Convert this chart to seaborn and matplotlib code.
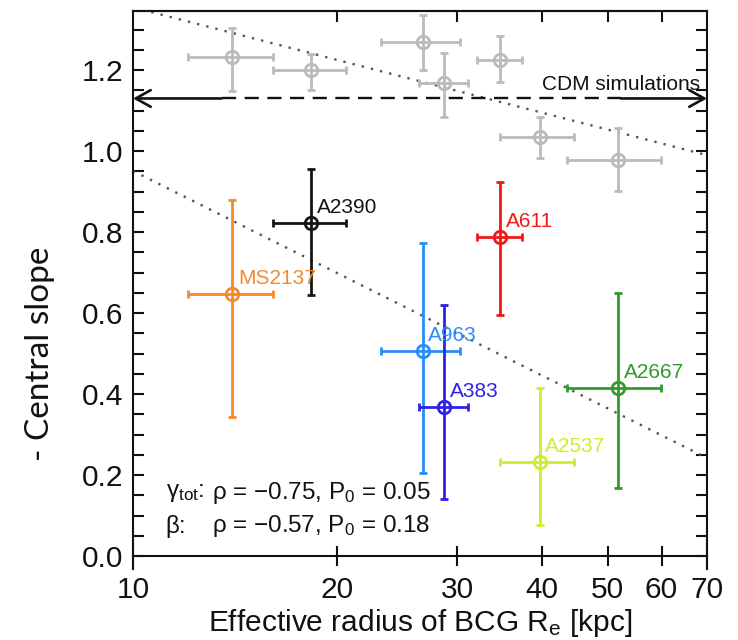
import matplotlib
matplotlib.use("Agg")
import matplotlib.pyplot as plt
from matplotlib.ticker import FixedLocator, FixedFormatter, MultipleLocator, NullLocator, FormatStrFormatter
import seaborn as sns
import pandas as pd

# ---- data -----------------------------------------------------------------
clusters = ["MS2137", "A2390", "A963", "A383", "A611", "A2537", "A2667"]
re_kpc = [14.0, 18.3, 26.7, 28.7, 34.7, 39.7, 51.8]
re_lo = [12.07, 16.1, 23.2, 26.4, 32.1, 34.7, 43.6]
re_hi = [16.06, 20.6, 30.3, 31.1, 37.4, 44.6, 59.8]

# dark-matter inner slope (beta)
beta = [0.647, 0.823, 0.507, 0.369, 0.788, 0.233, 0.416]
beta_lo = [0.344, 0.644, 0.204, 0.140, 0.595, 0.077, 0.167]
beta_hi = [0.879, 0.956, 0.774, 0.620, 0.924, 0.414, 0.649]

# total density slope (gamma_tot)
gamma_tot = [1.233, 1.200, 1.270, 1.169, 1.225, 1.035, 0.978]
gamma_lo = [1.149, 1.152, 1.200, 1.083, 1.171, 0.982, 0.902]
gamma_hi = [1.303, 1.241, 1.336, 1.243, 1.284, 1.083, 1.058]

cluster_colors = ["#f28a2e", "#151515", "#2a8cf4", "#2f22e4", "#f01a1a", "#c8ef30", "#33992f"]
grey = "#bbbbbb"

# linear fits in log(R_e), evaluated at the plot edges
fit_x = [10, 70]
fit_gamma = [1.355, 0.990]
fit_beta = [0.951, 0.242]

cdm_slope = 1.13
stats_lines = [("γ$_{\\rm tot}$:", "ρ = −0.75, P$_0$ = 0.05"),
               ("β:", "ρ = −0.57, P$_0$ = 0.18")]

# ---- style ----------------------------------------------------------------
sns.set_theme(style="ticks")
plt.rcParams["font.family"] = ["Liberation Sans", "DejaVu Sans"]
plt.rcParams["mathtext.fontset"] = "custom"
plt.rcParams["mathtext.rm"] = "Liberation Sans"
plt.rcParams["mathtext.it"] = "Liberation Sans:italic"
plt.rcParams["mathtext.bf"] = "Liberation Sans:bold"

W, H = 738, 640
fig = plt.figure(figsize=(W / 100, H / 100), dpi=100)
ax = fig.add_axes([133 / W, 1 - 569 / H, 574 / W, 558 / H])
ax.set_xscale("log")
ax.set_xlim(10, 70)
ax.set_ylim(-0.032, 1.346)

# fit lines
fits = pd.DataFrame({"x": fit_x * 2, "y": fit_gamma + fit_beta,
                     "fit": ["gamma"] * 2 + ["beta"] * 2})
sns.lineplot(data=fits, x="x", y="y", units="fit", estimator=None,
             color="#555555", lw=1.7, dashes=False, ax=ax, zorder=2)
for ln in ax.lines:
    ln.set_linestyle((0, (1, 3)))

# CDM prediction: dashed line with arrows at both ends
x_left_solid, x_right_solid = 13.5, 52.3
ax.plot([x_left_solid, x_right_solid], [cdm_slope, cdm_slope], color="#111111",
        lw=1.7, linestyle=(0, (6, 3.6)), zorder=2)
arrow_kw = dict(arrowstyle="->,head_length=0.9,head_width=0.5", lw=1.9,
                color="#111111", shrinkA=0, shrinkB=0)
ax.annotate("", xy=(10, cdm_slope), xytext=(x_left_solid, cdm_slope),
            arrowprops=arrow_kw, zorder=2)
ax.annotate("", xy=(70, cdm_slope), xytext=(x_right_solid, cdm_slope),
            arrowprops=arrow_kw, zorder=2)
ax.text(68.5, cdm_slope + 0.012, "CDM simulations", ha="right", va="bottom",
        fontsize=15, color="#111111")

err_kw = dict(fmt="o", ms=9, mfc="none", mew=2.0, elinewidth=2.0,
              capsize=2.6, capthick=1.8, zorder=3)

# total slope, grey
for i in range(len(clusters)):
    ax.errorbar([re_kpc[i]], [gamma_tot[i]],
                xerr=[[re_kpc[i] - re_lo[i]], [re_hi[i] - re_kpc[i]]],
                yerr=[[gamma_tot[i] - gamma_lo[i]], [gamma_hi[i] - gamma_tot[i]]],
                color=grey, mec=grey, **err_kw)

# dark-matter slope, coloured and labelled
for i, name in enumerate(clusters):
    c = cluster_colors[i]
    ax.errorbar([re_kpc[i]], [beta[i]],
                xerr=[[re_kpc[i] - re_lo[i]], [re_hi[i] - re_kpc[i]]],
                yerr=[[beta[i] - beta_lo[i]], [beta_hi[i] - beta[i]]],
                color=c, mec=c, **err_kw)
    ax.annotate(name, xy=(re_kpc[i], beta[i]), xytext=(4, 11),
                textcoords="offset points", ha="left", va="center",
                fontsize=15, color=c, zorder=4)

# correlation statistics
for k, (lab, val) in enumerate(stats_lines):
    y = 0.137 - k * 0.06
    ax.text(0.057, y, lab, transform=ax.transAxes, fontsize=17.5, va="center",
            ha="left", color="#111111")
    ax.text(0.137, y, val, transform=ax.transAxes, fontsize=17.5, va="center",
            ha="left", color="#111111")

# ---- axes -----------------------------------------------------------------
for s in ax.spines.values():
    s.set_linewidth(1.5)
    s.set_color("#111111")
ax.spines["bottom"].set_position(("data", 0))

xt = [10, 20, 30, 40, 50, 60, 70]
ax.xaxis.set_major_locator(FixedLocator(xt))
ax.xaxis.set_major_formatter(FixedFormatter([str(v) for v in xt]))
ax.xaxis.set_minor_locator(NullLocator())
ax.tick_params(axis="x", which="major", direction="inout", length=15,
               width=1.5, labelsize=21.5, pad=7, colors="#111111", top=False)

ax.yaxis.set_major_locator(MultipleLocator(0.2))
ax.yaxis.set_minor_locator(MultipleLocator(0.05))
ax.yaxis.set_major_formatter(FormatStrFormatter("%.1f"))
ax.tick_params(axis="y", which="both", direction="in", length=8, width=1.5,
               right=True, labelsize=21.5, pad=7, colors="#111111")

top = ax.secondary_xaxis("top")
top.set_xscale("log")
top.xaxis.set_major_locator(FixedLocator([20, 30, 40, 50, 60]))
top.xaxis.set_minor_locator(NullLocator())
top.tick_params(direction="in", length=8, width=1.5, labeltop=False,
                colors="#111111")
top.spines["top"].set_linewidth(1.5)

ax.set_ylabel("")
ax.set_xlabel("Effective radius of BCG R$_{\\rm e}$ [kpc]", fontsize=21.5,
              color="#111111")
ax.xaxis.set_label_coords(0.5, -0.068)
fig.text(40 / W, 1 - 354 / H, "- Central slope", rotation=90, ha="center",
         va="center", fontsize=24, family=["Lato", "DejaVu Sans"], color="#111111")

fig.savefig("out.png", dpi=100, facecolor="white")
